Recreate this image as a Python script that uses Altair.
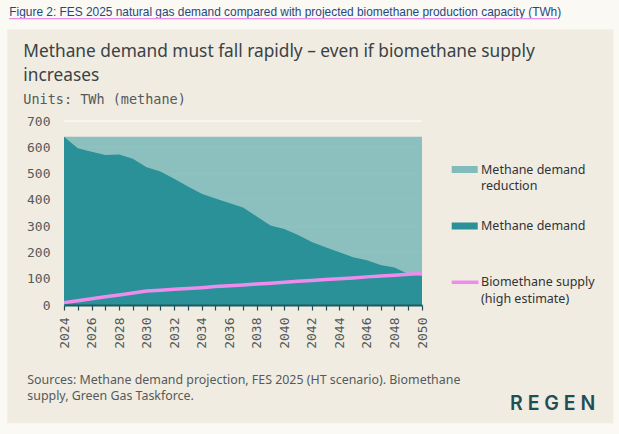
import altair as alt
import pandas as pd

# ---------------- data ----------------
years = list(range(2024, 2051))
methane_demand = [640, 596, 583, 571, 573, 556, 524, 508, 480, 451, 423, 405, 388,
                  371, 337, 302, 289, 266, 240, 220, 201, 182, 170, 152, 143, 118, 111]
biomethane_supply = [9, 16, 24, 31, 38, 46, 53, 56, 60, 63, 66, 70, 73,
                     76, 80, 83, 87, 90, 93, 97, 100, 103, 107, 110, 113, 117, 120]
demand_2024_level = 640
y_ticks = [0, 100, 200, 300, 400, 500, 600, 700]

caption = "Figure 2: FES 2025 natural gas demand compared with projected biomethane production capacity (TWh)"
title_lines = ["Methane demand must fall rapidly \u2013 even if biomethane supply", "increases"]
units = "Units: TWh (methane)"
legend_labels = [["Methane demand", "reduction"], ["Methane demand"], ["Biomethane supply", "(high estimate)"]]
source_lines = ["Sources: Methane demand projection, FES 2025 (HT scenario). Biomethane",
                "supply, Green Gas Taskforce."]
logo = "R E G E N"

df = pd.DataFrame({
    "year": years,
    "demand": methane_demand,
    "bio": biomethane_supply,
    "level": [demand_2024_level] * len(years),
})
grid_df = pd.DataFrame({"v": y_ticks[1:]})

# ---------------- style ----------------
PAGE_BG = "#FAF9F4"
CARD_BG = "#F0ECE2"
DARK = "#2A9198"
LIGHT = "#81BBBB"
PINK = "#EE8CEE"
INK = "#3A4245"
GREY = "#555A5A"
SANS = "Noto Sans"
MONO = "DejaVu Sans Mono"

L, T, W, H = 64, 121, 358, 184
TOTAL_W, TOTAL_H = 619, 434


def px(x):
    return alt.value(x - L)


def py(y):
    return alt.value(y - T)


def one():
    return pd.DataFrame({"k": [0]})


def text(s, x, y, size, font=SANS, color=GREY, weight="normal", align="left", baseline="alphabetic"):
    return alt.Chart(pd.DataFrame({"t": [s]})).mark_text(
        align=align, baseline=baseline, font=font, fontSize=size, color=color, fontWeight=weight
    ).encode(x=px(x), y=py(y), text="t:N")


def rect(x1, y1, x2, y2, color):
    return alt.Chart(one()).mark_rect(color=color, strokeWidth=0).encode(
        x=px(x1), x2=px(x2), y=py(y1), y2=py(y2))


xscale = alt.Scale(domain=[2024, 2050], nice=False, zero=False)
yscale = alt.Scale(domain=[0, 700], nice=False)

xaxis = alt.Axis(
    values=years, format="d", title=None, grid=False,
    labelExpr="datum.value % 2 == 0 ? datum.label : ''",
    labelAngle=270, labelFont=MONO, labelFontSize=13, labelColor=GREY,
    labelPadding=7, labelOverlap=False, labelFlush=False, labelBound=False,
    tickSize=5, tickColor="#1F4F55", tickWidth=1.2,
    domainColor="#1F5A60", domainWidth=2, zindex=1,
)

yaxis = alt.Axis(
    values=y_ticks, title=None, ticks=False, domain=False, grid=False,
    labelFont=MONO, labelFontSize=13, labelColor=GREY, labelPadding=14,
    labelOverlap=False, labelFlush=False, labelBound=False,
)


def X(field):
    return alt.X(field, scale=xscale, axis=xaxis)


def Y(field):
    return alt.Y(field, scale=yscale, axis=yaxis)


base = alt.Chart(df)
grid = alt.Chart(grid_df).mark_rule(color="#FFFFFF", strokeWidth=1).encode(
    y=Y("v:Q"), x=alt.value(0), x2=alt.value(W))
light = base.mark_area(color=LIGHT, opacity=0.9).encode(x=X("year:Q"), y=Y("level:Q"))
dark = base.mark_area(color=DARK).encode(x=X("year:Q"), y=Y("demand:Q"))
bio = base.mark_line(color=PINK, strokeWidth=3.5).encode(x=X("year:Q"), y=Y("bio:Q"))

layers = [grid, light, dark, bio]

# page margins around the card
layers += [
    rect(0, 0, TOTAL_W, 29.3, PAGE_BG),
    rect(0, 0, 7.3, TOTAL_H, PAGE_BG),
    rect(613.3, 0, TOTAL_W, TOTAL_H, PAGE_BG),
    rect(0, 423.3, TOTAL_W, TOTAL_H, PAGE_BG),
]

# caption with underline
layers.append(text(caption, 9.3, 16, 11.9, font="Liberation Sans", color="#1F497D"))
layers.append(alt.Chart(one()).mark_rule(color=PINK, strokeWidth=1.3).encode(
    x=px(9), x2=px(557), y=py(18.6)))

# title + units
for i, line in enumerate(title_lines):
    layers.append(text(line, 23.3, 57.3 + 24 * i, 17.3, color=INK, weight="normal"))
layers.append(text(units, 23.3, 104, 13.5, font=MONO, color=GREY))

# legend
legend_y = [169.5, 226, 282.3]
layers.append(rect(451.7, legend_y[0] - 3.5, 477.7, legend_y[0] + 3.5, LIGHT))
layers.append(rect(451.7, legend_y[1] - 3.5, 477.7, legend_y[1] + 3.5, DARK))
layers.append(alt.Chart(one()).mark_rule(color=PINK, strokeWidth=3.5).encode(
    x=px(451.7), x2=px(478.5), y=py(legend_y[2])))
for ly, lines in zip(legend_y, legend_labels):
    for j, line in enumerate(lines):
        layers.append(text(line, 481, ly + 16.4 * j, 12.5, color="#333333", baseline="middle"))

# sources
for i, line in enumerate(source_lines):
    layers.append(text(line, 27.3, 384 + 15.5 * i, 12.4, color=GREY))

# logo
layers.append(text(logo, 510, 410, 19.5, font="Inter", color="#1F4F55", weight=600))

chart = alt.layer(*layers).properties(
    width=W, height=H,
    autosize=alt.AutoSizeParams(type="none"),
    padding={"left": L, "top": T, "right": TOTAL_W - L - W, "bottom": TOTAL_H - T - H},
    background=CARD_BG,
).configure_view(strokeWidth=0, fill=None).configure_axis(labelOverlap=False)

chart.save("out.html", embed_options={"renderer": "svg", "actions": False})
